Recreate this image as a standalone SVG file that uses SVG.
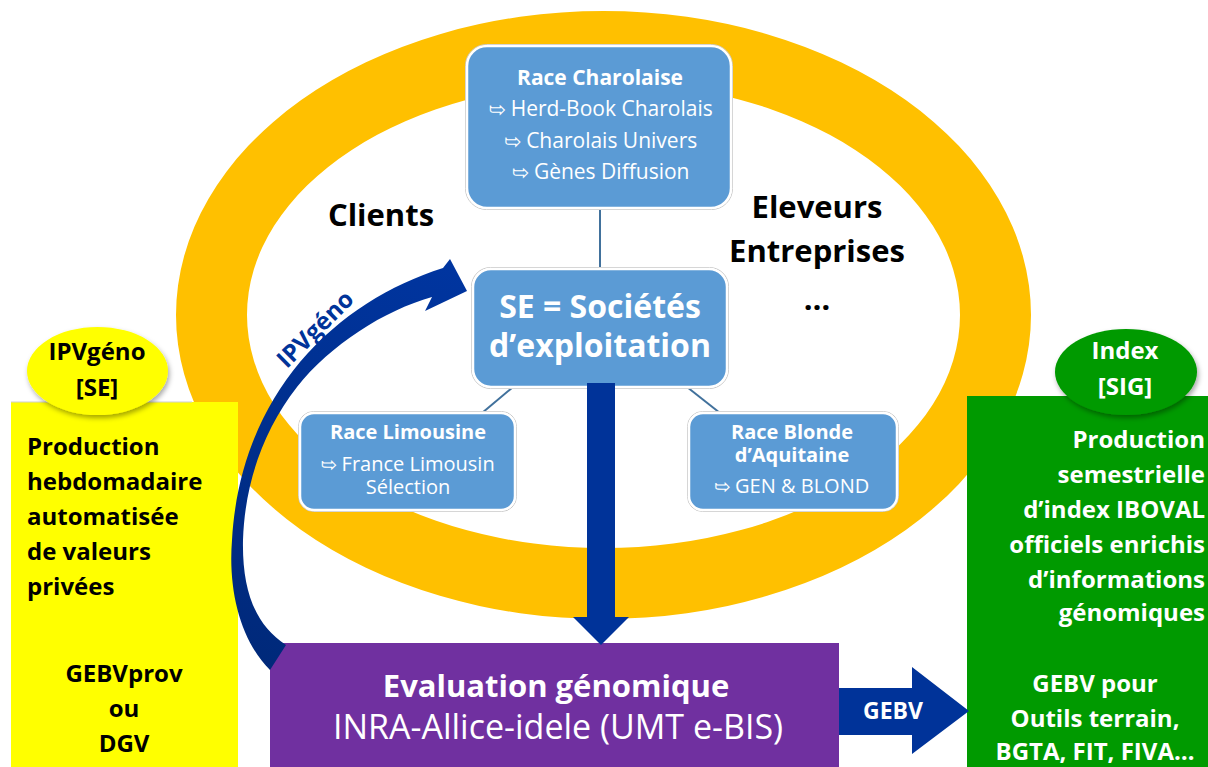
<svg xmlns="http://www.w3.org/2000/svg" width="1208" height="767" viewBox="0 0 1208 767">
  <defs>
    <style>
      text { font-family: "Open Sans", "Liberation Sans", sans-serif; }
      .b { font-weight: 700; }
      .box { fill: #5B9BD5; stroke: #ffffff; stroke-width: 2.5; }
      .halo { fill: none; stroke: #c8c8c8; stroke-width: 1; }
      .wt { fill: #ffffff; }
      .bk { fill: #000000; }
      .link { stroke: #41719C; stroke-width: 2; fill: none; }
      .glyph { font-family: "DejaVu Sans", sans-serif; fill: none; stroke: #ffffff; stroke-width: 1.1; }
      .darrow { fill: #003399; }
    </style>
    <filter id="shadow" x="-20%" y="-20%" width="140%" height="150%">
      <feDropShadow dx="1.5" dy="3" stdDeviation="2.5" flood-color="#000000" flood-opacity="0.35"/>
    </filter>
    <linearGradient id="curveGrad" gradientUnits="userSpaceOnUse" x1="280" y1="670" x2="450" y2="260">
      <stop offset="0" stop-color="#00297a"/>
      <stop offset="1" stop-color="#0035a0"/>
    </linearGradient>
  </defs>

  <rect width="1208" height="767" fill="#ffffff"/>

  <!-- orange ring -->
  <path id="ring" fill="#FFC000" fill-rule="evenodd"
        d="M176,315 a427.5,304 0 1,0 855,0 a427.5,304 0 1,0 -855,0 Z
           M247,315 a356.5,233 0 1,0 713,0 a356.5,233 0 1,0 -713,0 Z"/>

  <!-- left panel -->
  <g id="ipv-panel">
    <rect x="11" y="402" width="227" height="365" fill="#FFFF00"/>
    <line x1="11" y1="402" x2="192" y2="402" stroke="#cfcfcf" stroke-width="1"/>
    <text class="b bk" font-size="24" x="27" y="455">Production</text>
    <text class="b bk" font-size="24" x="27" y="490">hebdomadaire</text>
    <text class="b bk" font-size="24" x="27" y="525">automatisée</text>
    <text class="b bk" font-size="24" x="27" y="560">de valeurs</text>
    <text class="b bk" font-size="24" x="27" y="595">privées</text>
    <text class="b bk" font-size="24" x="124" y="682" text-anchor="middle">GEBVprov</text>
    <text class="b bk" font-size="24" x="124" y="717" text-anchor="middle">ou</text>
    <text class="b bk" font-size="24" x="124" y="752" text-anchor="middle">DGV</text>
  </g>
  <g id="ipv-tag">
    <ellipse cx="97.5" cy="371" rx="70.5" ry="44" fill="#FFFF00" filter="url(#shadow)"/>
    <text class="b bk" font-size="24" x="97" y="360" text-anchor="middle">IPVgéno</text>
    <text class="b bk" font-size="24" x="97" y="396" text-anchor="middle">[SE]</text>
  </g>

  <!-- right panel -->
  <g id="index-panel">
    <rect x="967" y="396" width="241" height="371" fill="#009A00"/>
    <g class="b wt" font-size="24" text-anchor="end">
      <text x="1205" y="448">Production</text>
      <text x="1205" y="483">semestrielle</text>
      <text x="1205" y="518">d’index IBOVAL</text>
      <text x="1205" y="553">officiels enrichis</text>
      <text x="1205" y="588">d’informations</text>
      <text x="1205" y="621">génomiques</text>
    </g>
    <g class="b wt" font-size="24" text-anchor="middle">
      <text x="1095" y="692">GEBV pour</text>
      <text x="1095" y="727">Outils terrain,</text>
      <text x="1095" y="760">BGTA, FIT, FIVA…</text>
    </g>
  </g>
  <g id="index-tag">
    <ellipse cx="1126" cy="372" rx="71" ry="43" fill="#009A00" filter="url(#shadow)"/>
    <text class="b wt" font-size="24" x="1125" y="359" text-anchor="middle">Index</text>
    <text class="b wt" font-size="24" x="1125" y="395" text-anchor="middle">[SIG]</text>
  </g>

  <!-- labels inside the ring -->
  <g id="clients">
    <text class="b bk" font-size="31" x="381" y="226" text-anchor="middle">Clients</text>
  </g>
  <g id="eleveurs">
    <text class="b bk" font-size="31" x="817" y="218" text-anchor="middle">Eleveurs</text>
    <text class="b bk" font-size="31" x="817" y="262" text-anchor="middle">Entreprises</text>
    <text class="b bk" font-size="31" x="817" y="310" text-anchor="middle">…</text>
  </g>

  <!-- connectors -->
  <g id="connectors">
    <line class="link" x1="600" y1="208" x2="600" y2="269"/>
    <line class="link" x1="513" y1="387" x2="482" y2="413"/>
    <line class="link" x1="687" y1="387" x2="720" y2="413"/>
  </g>

  <!-- breed boxes -->
  <g id="charolaise">
    <rect class="halo" x="465.5" y="44.5" width="267" height="165" rx="21"/>
    <rect class="box" x="467" y="46" width="264" height="162" rx="20"/>
    <text class="b wt" font-size="21" x="600" y="85" text-anchor="middle">Race Charolaise</text>
    <text class="wt" font-size="21" x="601" y="116" text-anchor="middle"><tspan class="glyph" font-size="19">➥</tspan> Herd-Book Charolais</text>
    <text class="wt" font-size="21" x="601" y="148" text-anchor="middle"><tspan class="glyph" font-size="19">➥</tspan> Charolais Univers</text>
    <text class="wt" font-size="21" x="601" y="179" text-anchor="middle"><tspan class="glyph" font-size="19">➥</tspan> Gènes Diffusion</text>
  </g>

  <g id="se">
    <rect class="halo" x="471.5" y="267.5" width="257" height="121" rx="19"/>
    <rect class="box" x="473" y="269" width="254" height="118" rx="18"/>
    <text class="b wt" font-size="32" x="600" y="318" text-anchor="middle">SE = Sociétés</text>
    <text class="b wt" font-size="32" x="600" y="357" text-anchor="middle">d’exploitation</text>
  </g>

  <g id="limousine">
    <rect class="halo" x="298.5" y="411.5" width="218" height="100" rx="15"/>
    <rect class="box" x="300" y="413" width="215" height="97" rx="14"/>
    <text class="b wt" font-size="20" x="408" y="439" text-anchor="middle">Race Limousine</text>
    <text class="wt" font-size="20" x="408" y="471" text-anchor="middle"><tspan class="glyph" font-size="18">➥</tspan> France Limousin</text>
    <text class="wt" font-size="20" x="408" y="494" text-anchor="middle">Sélection</text>
  </g>

  <g id="blonde">
    <rect class="halo" x="687.5" y="411.5" width="211" height="100" rx="15"/>
    <rect class="box" x="689" y="413" width="208" height="97" rx="14"/>
    <text class="b wt" font-size="20" x="792" y="439" text-anchor="middle">Race Blonde</text>
    <text class="b wt" font-size="20" x="792" y="462" text-anchor="middle">d’Aquitaine</text>
    <text class="wt" font-size="20" x="792" y="493" text-anchor="middle"><tspan class="glyph" font-size="18">➥</tspan> GEN &amp; BLOND</text>
  </g>

  <!-- genomic evaluation -->
  <g id="evaluation">
    <rect x="270" y="643" width="569" height="124" fill="#7030A0"/>
    <text class="b wt" font-size="31" x="556" y="697" text-anchor="middle">Evaluation génomique</text>
    <text class="wt" font-size="34" x="558" y="739" text-anchor="middle">INRA-Allice-idele (UMT e-BIS)</text>
  </g>

  <!-- flow arrows -->
  <g id="flow-arrows">
    <path class="darrow" d="M587,383 L615,383 L615,617 L629,617 L601,645 L573,617 L587,617 Z"/>
    <path class="darrow" d="M839,688 L912,688 L912,667 L969,711 L912,754 L912,735 L839,735 Z"/>
    <text class="b wt" font-size="23" x="893" y="719" text-anchor="middle">GEBV</text>
    <path fill="url(#curveGrad)"
          d="M270,670 C240,640 228,590 232,540 C236,470 260,410 300,362 C340,315 390,285 443,268
             L450,259 L467,291 L425,311 L432,297
             C385,310 330,345 297,387 C265,428 245,480 243,540 C242,590 255,625 286,645 Z"/>
    <text class="b" fill="#003399" font-size="24" x="0" y="0" text-anchor="middle" transform="translate(321,335) rotate(-45)">IPVgéno</text>
  </g>
</svg>
